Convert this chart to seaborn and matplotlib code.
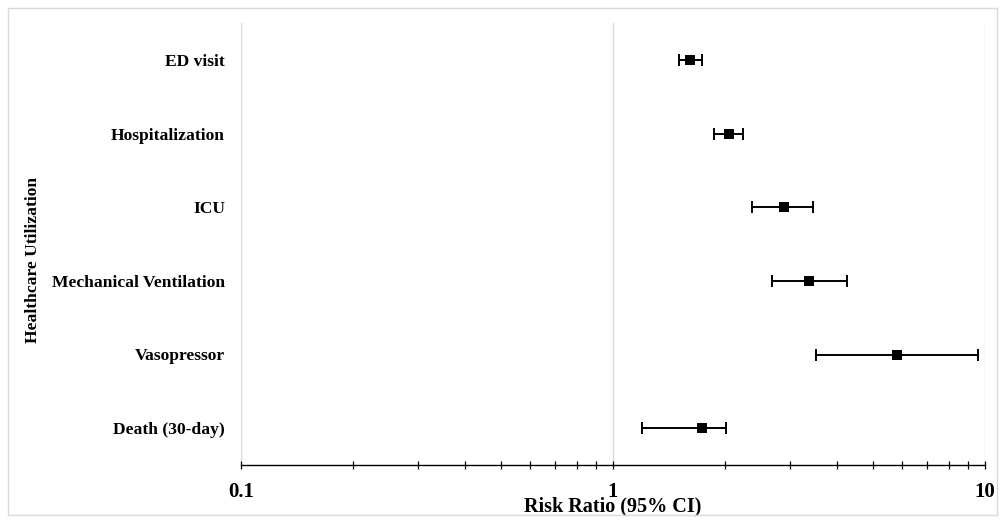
import matplotlib
matplotlib.use("Agg")
import matplotlib.pyplot as plt
import seaborn as sns
import numpy as np
import pandas as pd
from matplotlib.ticker import LogLocator, NullFormatter, FixedLocator, FixedFormatter
from matplotlib.patches import Rectangle

categories = ["ED visit", "Hospitalization", "ICU", "Mechanical Ventilation",
              "Vasopressor", "Death (30-day)"]
rr = [1.61, 2.05, 2.88, 3.37, 5.79, 1.74]
ci_low = [1.50, 1.87, 2.37, 2.67, 3.51, 1.20]
ci_high = [1.74, 2.24, 3.45, 4.25, 9.56, 2.01]
x_ticks = [0.1, 1, 10]
x_tick_labels = ["0.1", "1", "10"]

sns.set_theme(style="white")
plt.rcParams['font.family'] = ['Liberation Serif', 'DejaVu Serif']
plt.rcParams['text.color'] = 'black'
plt.rcParams['axes.labelcolor'] = 'black'
plt.rcParams['xtick.color'] = 'black'
plt.rcParams['ytick.color'] = 'black'

df = pd.DataFrame({"Category": categories, "RR": rr, "lo": ci_low, "hi": ci_high})
df["pos"] = np.arange(len(df))

fig = plt.figure(figsize=(10.05, 5.23), dpi=100)
ax = fig.add_axes([241/1005, 1 - 465/523, (985 - 241)/1005, (465 - 23)/523])

ax.set_xscale("log")
ax.errorbar(df["RR"], df["pos"],
            xerr=[df["RR"] - df["lo"], df["hi"] - df["RR"]],
            fmt="none", ecolor="black", elinewidth=1.4, capsize=4, capthick=1.4, zorder=3)
sns.scatterplot(data=df, x="RR", y="pos", marker="s", color="black", s=55,
                edgecolor="black", linewidth=0, ax=ax, zorder=4, legend=False)

ax.set_xlim(0.1, 10)
ax.set_ylim(len(df) - 0.5, -0.5)

ax.xaxis.set_major_locator(FixedLocator(x_ticks))
ax.xaxis.set_major_formatter(FixedFormatter(x_tick_labels))
ax.xaxis.set_minor_locator(LogLocator(base=10, subs=np.arange(2, 10)))
ax.xaxis.set_minor_formatter(NullFormatter())
ax.tick_params(axis="x", which="both", direction="inout", length=6, width=0.9,
               colors="black", bottom=True, labelsize=15, pad=9)
for lab in ax.get_xticklabels():
    lab.set_fontweight("bold")
    lab.set_color("black")

ax.set_yticks(df["pos"])
ax.set_yticklabels(categories, fontsize=12.6, fontweight="bold", color="black")
ax.tick_params(axis="y", which="both", left=False, length=0, pad=11.5)

ax.grid(False)
for xv in x_ticks:
    ax.axvline(xv, color="#d9d9d9", linewidth=1.0, zorder=0)

for s in ["top", "right", "left"]:
    ax.spines[s].set_visible(False)
ax.spines["bottom"].set_color("black")
ax.spines["bottom"].set_linewidth(1.0)
ax.spines["bottom"].set_zorder(5)

ax.set_xlabel("Risk Ratio (95% CI)", fontsize=14.5, fontweight="bold", labelpad=-4,
              color="black")
ax.set_ylabel("Healthcare Utilization", fontsize=12.6, fontweight="bold", color="black")
ax.yaxis.set_label_coords(-241/1005*0.83/((985 - 241)/1005), 0.464)

fig.patches.append(Rectangle((8/1005, 8/523), (997 - 8)/1005, (515 - 8)/523,
                             transform=fig.transFigure, fill=False,
                             edgecolor="#d9d9d9", linewidth=1.0))

fig.savefig("out.png", dpi=100)
